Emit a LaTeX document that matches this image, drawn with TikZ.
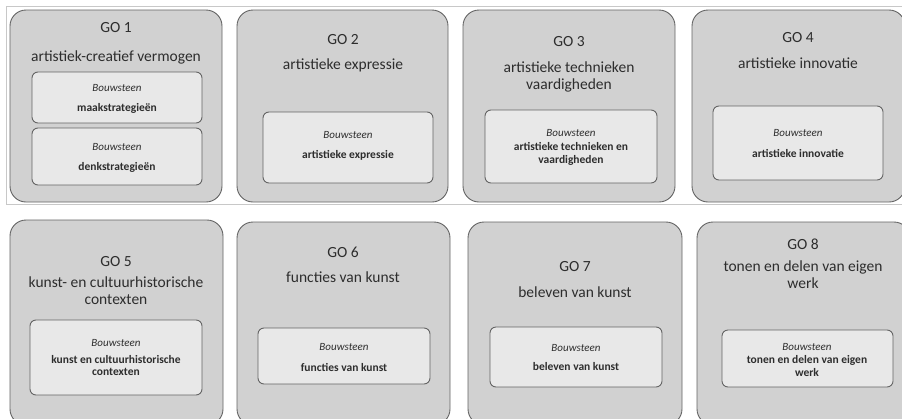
\documentclass[tikz,border=0pt]{standalone}
\usepackage{fontspec}
\setmainfont{Carlito}
\definecolor{gofill}{RGB}{209,209,209}
\definecolor{bsfill}{RGB}{232,232,232}
\definecolor{rand}{RGB}{100,100,100}
\definecolor{kader}{RGB}{200,200,200}
\definecolor{tekst}{RGB}{45,45,45}
\tikzset{
	gobox/.style={draw=rand, fill=gofill, line width=0.9pt, rounded corners=16pt},
	bsbox/.style={draw=rand, fill=bsfill, line width=0.9pt, rounded corners=6pt},
	titel/.style={text=tekst, font=\fontsize{15.5}{17}\selectfont, align=center},
	bouw/.style={text=tekst, font=\fontsize{11}{12}\selectfont\itshape},
	naam/.style={text=tekst, font=\fontsize{11.5}{13}\selectfont\bfseries, align=center},
}
\begin{document}
\begin{tikzpicture}[x=1pt,y=-1pt]
		\useasboundingbox (0,0) rectangle (902,418);
		\clip (0,0) rectangle (902,418);
		% Kader bovenste rij
		\draw[kader, line width=0.8pt] (6,204) -- (6,6) -- (902,6);
		\draw[kader, line width=0.8pt] (6,204) -- (902,204);
		
		% GO 1
		\draw[gobox] (10,10) rectangle (222,202);
		\node[titel] (go1) at (116,28) {GO 1};
		\node[titel] (go1t) at (116,57) {artistiek-creatief vermogen};
		\draw[bsbox] (32,72) rectangle (202,123);
		\node[bouw] (b1a) at (117,88) {Bouwsteen};
		\node[naam] (n1a) at (117,108) {maakstrategieën};
		\draw[bsbox] (32,128) rectangle (202,185);
		\node[bouw] (b1b) at (117,147) {Bouwsteen};
		\node[naam] (n1b) at (117,167) {denkstrategieën};
		
		% GO 2
		\draw[gobox] (237,10) rectangle (448,202);
		\node[titel] (go2) at (343,40) {GO 2};
		\node[titel] (go2t) at (343,65) {artistieke expressie};
		\draw[bsbox] (263,112) rectangle (433,183);
		\node[bouw] (b2) at (348,135) {Bouwsteen};
		\node[naam] (n2) at (348,155) {artistieke expressie};
		
		% GO 3
		\draw[gobox] (463,10) rectangle (675,202);
		\node[titel] (go3) at (569,42) {GO 3};
		\node[titel] (go3t) at (569,76.5) {artistieke technieken\\vaardigheden};
		\draw[bsbox] (485,110) rectangle (657,183);
		\node[bouw] (b3) at (571,133) {Bouwsteen};
		\node[naam] (n3) at (571,153.5) {artistieke technieken en\\vaardigheden};
		
		% GO 4
		\draw[gobox] (692,10) rectangle (905,202);
		\node[titel] (go4) at (798,38) {GO 4};
		\node[titel] (go4t) at (798,63) {artistieke innovatie};
		\draw[bsbox] (713,106) rectangle (883,180);
		\node[bouw] (b4) at (798,133) {Bouwsteen};
		\node[naam] (n4) at (798,153) {artistieke innovatie};
		
		% GO 5
		\draw[gobox] (10,220) rectangle (223,425);
		\node[titel] (go5) at (116,262) {GO 5};
		\node[titel] (go5t) at (116,291) {kunst- en cultuurhistorische\\contexten};
		\draw[bsbox] (30,320) rectangle (202,395);
		\node[bouw] (b5) at (116,343) {Bouwsteen};
		\node[naam] (n5) at (116,365.5) {kunst en cultuurhistorische\\contexten};
		
		% GO 6
		\draw[gobox] (237,222) rectangle (450,425);
		\node[titel] (go6) at (343,252) {GO 6};
		\node[titel] (go6t) at (343,277) {functies van kunst};
		\draw[bsbox] (258,328) rectangle (430,384);
		\node[bouw] (b6) at (344,347) {Bouwsteen};
		\node[naam] (n6) at (344,367) {functies van kunst};
		
		% GO 7
		\draw[gobox] (468,222) rectangle (682,425);
		\node[titel] (go7) at (575,267) {GO 7};
		\node[titel] (go7t) at (575,292) {beleven van kunst};
		\draw[bsbox] (490,327) rectangle (662,387);
		\node[bouw] (b7) at (576,348) {Bouwsteen};
		\node[naam] (n7) at (576,367) {beleven van kunst};
		
		% GO 8
		\draw[gobox] (697,222) rectangle (910,425);
		\node[titel] (go8) at (803,244) {GO 8};
		\node[titel] (go8t) at (803,274.5) {tonen en delen van eigen\\werk};
		\draw[bsbox] (722,330) rectangle (893,387);
		\node[bouw] (b8) at (807,347) {Bouwsteen};
		\node[naam] (n8) at (807,366.5) {tonen en delen van eigen\\werk};
	\end{tikzpicture}
\end{document}
